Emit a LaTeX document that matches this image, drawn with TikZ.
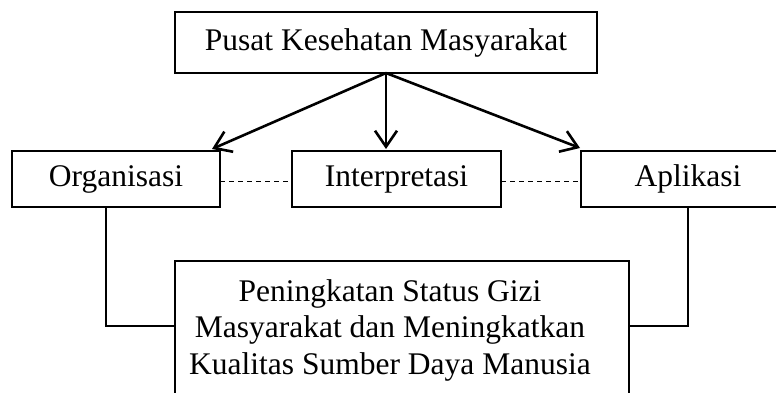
\documentclass[tikz,border=0pt]{standalone}
\usepackage{fontspec}
\setmainfont{Liberation Serif}
\usetikzlibrary{arrows.meta}
\begin{document}
\begin{tikzpicture}[x=1pt,y=-1pt,
  box/.style={draw, line width=1.3pt, inner sep=0pt, outer sep=0pt,
    font=\fontsize{31.5}{36}\selectfont},
  flow/.style={line width=2.6pt, -{Straight Barb[length=16pt,width=22pt,line width=2.6pt]}},
  link/.style={line width=1.3pt},
  weak/.style={line width=0.9pt, dash pattern=on 5pt off 4pt}]
\useasboundingbox (0,0) rectangle (776,392);
\clip (0,0) rectangle (776,392);

% boxes
\node[box, minimum width=422pt, minimum height=61pt] (top) at (386,42.5) {Pusat Kesehatan Masyarakat};
\node[box, minimum width=208pt, minimum height=56pt] (org) at (116,179) {Organisasi};
\node[box, minimum width=209pt, minimum height=56pt] (interp) at (396.5,179) {Interpretasi};
\node[box, minimum width=214pt, minimum height=56pt] (apl) at (688,179) {Aplikasi};
\node[box, minimum width=454pt, minimum height=134pt] (goal) at (402,328) {};
\node[font=\fontsize{31.5}{36.5}\selectfont, align=center, inner sep=0pt] (goaltext) at (390,330)
  {Peningkatan Status Gizi\\Masyarakat dan Meningkatkan\\Kualitas Sumber Daya Manusia};

% arrows from the top box
\draw[flow] (top.south) -- ([shift={(-8pt,2pt)}]org.north east);
\draw[flow] (top.south) -- ([yshift=2pt]top.south |- interp.north);
\draw[flow] (top.south) -- ([shift={(-1pt,3pt)}]apl.north west);

% dashed links between the middle boxes
\draw[weak] ([yshift=-2pt]org.east) -- ([yshift=-2pt]interp.west);
\draw[weak] ([yshift=-2pt]interp.east) -- ([yshift=-2pt]apl.west);

% elbow links into the bottom box
\draw[link] ([xshift=-10pt]org.south) |- ([yshift=2pt]goal.west);
\draw[link] (apl.south) |- ([yshift=2pt]goal.east);
\end{tikzpicture}
\end{document}
